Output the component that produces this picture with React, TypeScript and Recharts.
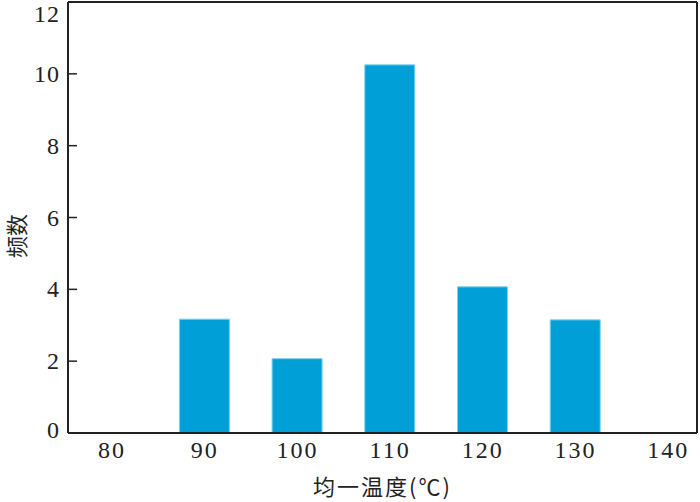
import React from 'react';
import { BarChart, Bar, XAxis, YAxis } from 'recharts';

const temps = [90, 100, 110, 120, 130];
const counts = [3.17, 2.07, 10.25, 4.07, 3.15];
const xTicks = [80, 90, 100, 110, 120, 130, 140];
const yTicks = [0, 2, 4, 6, 8, 10, 12];

const data = temps.map((t, i) => ({ t, n: counts[i] }));

const serif = '"Liberation Serif", "DejaVu Serif", serif';
const cjk = '"Noto Sans CJK SC", sans-serif';
const ink = '#222';

// y ticks sit inside the frame, label to the left; top label is nudged down to stay on the page
const YTick = ({ x, y, payload }: any) => (
  <g>
    {payload.value !== 0 && payload.value !== 12 && (
      <line x1={x + 8} x2={x + 17} y1={y} y2={y} stroke={ink} strokeWidth={1.5} />
    )}
    <text x={x} y={y} dy={payload.value === 12 ? 13 : payload.value === 0 ? 5 : 8} textAnchor="end"
      fontFamily={serif} fontSize={24} letterSpacing={1} fill={ink}>
      {payload.value}
    </text>
  </g>
);

const YLabel = () => (
  <text x={15} y={236} transform="rotate(-90 15 236)" textAnchor="middle" dominantBaseline="central"
    fontFamily={cjk} fontSize={22} fill={ink}>
    频数
  </text>
);

const XLabel = ({ viewBox }: any) => (
  <text x={viewBox.x + viewBox.width / 2} y={485} textAnchor="middle" dominantBaseline="central"
    fontFamily={cjk} fontSize={22} letterSpacing={2} fill={ink}>
    均一温度(℃)
  </text>
);

export default function App() {
  return (
    <div style={{ position: 'absolute', left: 0, top: 0, width: 700, height: 502, background: '#fff' }}>
      <BarChart width={700} height={502} data={data} margin={{ top: 1, right: 2, left: 0, bottom: 0 }}>
        <XAxis
          dataKey="t"
          type="number"
          domain={[75.25, 143.1]}
          ticks={xTicks}
          allowDataOverflow
          height={69}
          tickSize={0}
          tickMargin={8}
          axisLine={{ stroke: ink, strokeWidth: 2 }}
          tick={{ fontFamily: serif, fontSize: 24, fill: ink, letterSpacing: 2 }}
          label={<XLabel />}
        />
        <XAxis xAxisId="top" orientation="top" dataKey="t" type="number" domain={[75.25, 143.1]}
          height={1} tick={false} tickLine={false} axisLine={{ stroke: ink, strokeWidth: 2 }} />
        <YAxis
          domain={[0, 12]}
          ticks={yTicks}
          width={68}
          tickSize={0}
          tickMargin={8}
          tickLine={false}
          axisLine={{ stroke: ink, strokeWidth: 2 }}
          tick={<YTick />}
          label={<YLabel />}
        />
        <YAxis yAxisId="right" orientation="right" domain={[0, 12]} width={1} tick={false} tickLine={false}
          axisLine={{ stroke: ink, strokeWidth: 2 }} />
        <Bar dataKey="n" fill="#009fd8" stroke="#7fd0ef" strokeWidth={1} barSize={50} isAnimationActive={false} />
      </BarChart>
    </div>
  );
}
